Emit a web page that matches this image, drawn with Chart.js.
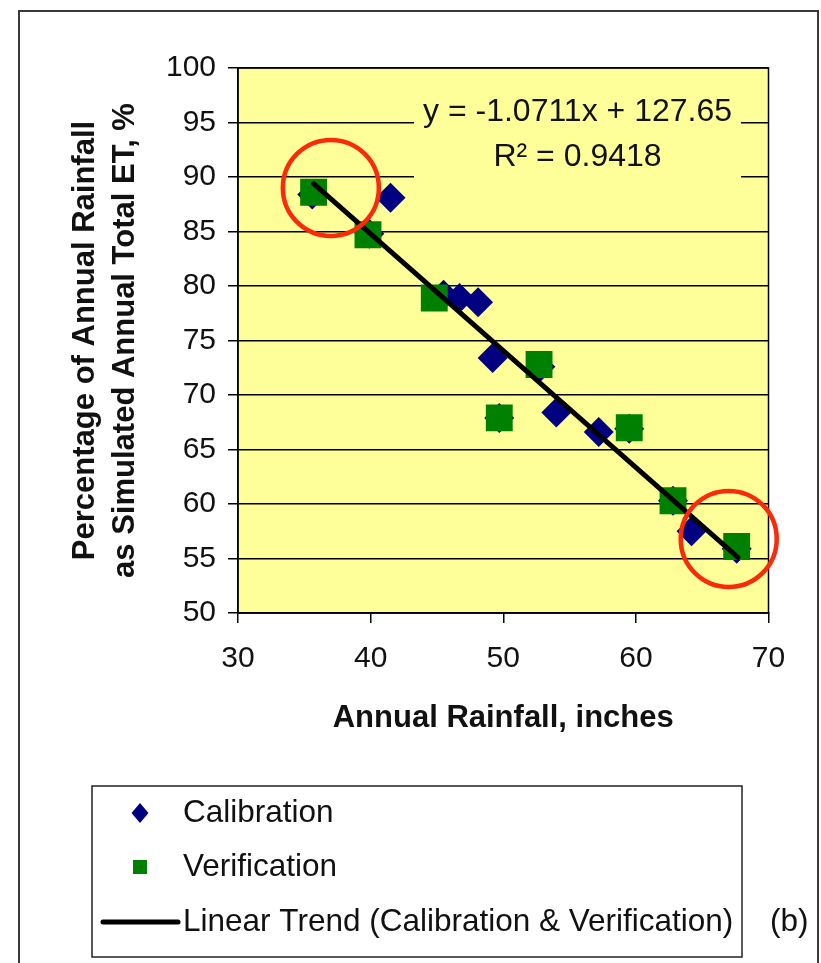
<!DOCTYPE html>
<html><head><meta charset="utf-8">
<script src="https://cdn.jsdelivr.net/npm/chart.js@4.4.1/dist/chart.umd.min.js"></script>
<style>html,body{margin:0;padding:0;background:#fff}#wrap{position:relative;width:821px;height:963px}</style>
</head><body><div id="wrap"><canvas id="c" width="821" height="963"></canvas></div>
<script>
// ---- data ----
const calibrationRain = [35.6, 41.5, 39.9, 45.5, 46.7, 48.1, 49.2, 52.8, 49.7, 54.0, 57.2, 59.5, 62.8, 64.2, 67.6];
const calibrationPct  = [88.4, 88.1, 84.8, 79.2, 78.9, 78.5, 73.4, 72.6, 67.9, 68.4, 66.6, 66.9, 60.3, 57.5, 55.9];
const verificationRain = [35.7, 39.8, 44.8, 52.7, 49.7, 59.5, 62.8, 67.6];
const verificationPct  = [88.6, 84.7, 78.9, 72.8, 67.9, 67.0, 60.3, 56.1];
const trendRain = [35.7, 67.7];
const trendPct  = [89.4, 55.1];
const highlightRain = [37.0, 67.0];
const highlightPct  = [89.0, 56.8];
const xTickValues = [30, 40, 50, 60, 70];
const yTickValues = [50, 55, 60, 65, 70, 75, 80, 85, 90, 95, 100];
const equationText = 'y = -1.0711x + 127.65';
const r2Text = 'R\u00B2 = 0.9418';
const seriesNames = ['Calibration', 'Verification', 'Linear Trend (Calibration & Verification)'];
const panelLabel = '(b)';
const xTitle = 'Annual Rainfall, inches';
const yTitle = ['Percentage of Annual Rainfall', 'as Simulated Annual Total ET, %'];

const FONT = '"Liberation Sans", Arial, sans-serif';
const NAVY = '#000080', GREEN = '#008000', PLOT_BG = '#FFFF99';

const pts = (xs, ys) => xs.map((x, i) => ({x, y: ys[i]}));

const decor = {
  id: 'decor',
  beforeDraw(chart) {
    const {ctx, chartArea: a} = chart;
    ctx.save();
    ctx.fillStyle = '#fff';
    ctx.fillRect(0, 0, chart.width, chart.height);
    ctx.strokeStyle = '#3a3a3a';
    ctx.lineWidth = 2;
    ctx.strokeRect(19, 11, 799, 1000);
    ctx.fillStyle = PLOT_BG;
    ctx.fillRect(a.left, a.top, a.right - a.left, a.bottom - a.top);
    ctx.restore();
  },
  beforeDatasetsDraw(chart) {
    const {ctx, chartArea: a, scales} = chart;
    ctx.save();
    // equation label box
    const cx = scales.x.getPixelForValue(55.6);
    const y1 = scales.y.getPixelForValue(95.95);
    const y2 = scales.y.getPixelForValue(91.85);
    ctx.font = '32px ' + FONT;
    const w = Math.max(ctx.measureText(equationText).width, ctx.measureText(r2Text).width);
    ctx.fillStyle = PLOT_BG;
    ctx.fillRect(cx - w / 2 - 9, y1 - 20, w + 18, (y2 - y1) + 50);
    ctx.fillStyle = '#111';
    ctx.textAlign = 'center';
    ctx.textBaseline = 'middle';
    ctx.fillText(equationText, cx, y1);
    ctx.fillText(r2Text, cx, y2);
    // plot frame
    ctx.strokeStyle = '#000';
    ctx.lineWidth = 1.5;
    ctx.strokeRect(a.left, a.top, a.right - a.left, a.bottom - a.top);
    ctx.restore();
  },
  afterDraw(chart) {
    const {ctx} = chart;
    ctx.save();
    const L = {left: 92, top: 786, right: 742, bottom: 957};
    ctx.strokeStyle = '#222';
    ctx.lineWidth = 1.5;
    ctx.strokeRect(L.left, L.top, L.right - L.left, L.bottom - L.top);
    const rows = [813, 867, 922];
    const mx = 140;
    // diamond
    ctx.fillStyle = NAVY;
    ctx.beginPath();
    ctx.moveTo(mx, rows[0] - 10); ctx.lineTo(mx + 8.5, rows[0]);
    ctx.lineTo(mx, rows[0] + 10); ctx.lineTo(mx - 8.5, rows[0]);
    ctx.closePath(); ctx.fill();
    // square
    ctx.fillStyle = GREEN;
    ctx.fillRect(mx - 7, rows[1] - 7, 14, 14);
    // line
    ctx.strokeStyle = '#000';
    ctx.lineWidth = 5;
    ctx.lineCap = 'round';
    ctx.beginPath(); ctx.moveTo(103, rows[2]); ctx.lineTo(178, rows[2]); ctx.stroke();
    ctx.fillStyle = '#111';
    ctx.font = '31.5px ' + FONT;
    ctx.textAlign = 'left';
    ctx.textBaseline = 'middle';
    seriesNames.forEach((n, i) => ctx.fillText(n, 183, rows[i]));
    ctx.fillText(panelLabel, 770, rows[2]);
    ctx.restore();
  }
};

new Chart(document.getElementById('c'), {
  type: 'scatter',
  data: {
    datasets: [
      {label: 'highlight', data: pts(highlightRain, highlightPct), pointStyle: 'circle', pointRadius: 48,
       pointBorderWidth: 4.5, pointBorderColor: '#fa2a0a', pointBackgroundColor: 'rgba(0,0,0,0)', clip: false, order: 0},
      {label: seriesNames[2], type: 'line', data: pts(trendRain, trendPct), borderColor: '#000', borderWidth: 5,
       pointRadius: 0, fill: false, showLine: true, order: 1, borderCapStyle: 'round'},
      {label: seriesNames[1], data: pts(verificationRain, verificationPct), pointStyle: 'rect', pointRadius: 19,
       pointBackgroundColor: GREEN, pointBorderWidth: 0, order: 2},
      {label: seriesNames[0], data: pts(calibrationRain, calibrationPct), pointStyle: 'rectRot', pointRadius: 15,
       pointBackgroundColor: NAVY, pointBorderWidth: 0, order: 3}
    ]
  },
  options: {
    responsive: false,
    animation: false,
    devicePixelRatio: 1,
    events: [],
    layout: {padding: {left: 60, top: 68, right: 49, bottom: 226}},
    plugins: {legend: {display: false}, tooltip: {enabled: false}},
    scales: {
      x: {
        type: 'linear', min: 30, max: 70,
        afterBuildTicks: s => { s.ticks = xTickValues.map(v => ({value: v})); },
        afterFit: s => { s.height = 124; },
        grid: {drawOnChartArea: false, drawTicks: true, tickLength: 10, color: '#000', lineWidth: 1.5},
        border: {display: true, color: '#000', width: 1.5},
        ticks: {color: '#111', font: {family: FONT, size: 30}, padding: 18, maxRotation: 0},
        title: {display: true, text: xTitle, color: '#111', font: {family: FONT, size: 31, weight: 'bold'}, padding: {top: 0, bottom: 0}}
      },
      y: {
        type: 'linear', min: 50, max: 100,
        afterBuildTicks: s => { s.ticks = yTickValues.map(v => ({value: v})); },
        afterFit: s => { s.width = 178; },
        grid: {drawOnChartArea: true, drawTicks: true, tickLength: 10, color: '#000', lineWidth: 1.5},
        border: {display: true, color: '#000', width: 1.5},
        ticks: {color: '#111', font: {family: FONT, size: 30}, padding: 12},
        title: {display: true, text: yTitle, color: '#111', font: {family: FONT, size: 31, weight: 'bold', lineHeight: 1.29}, padding: {top: 5, bottom: 0}}
      }
    }
  },
  plugins: [decor]
});
</script>
</body></html>
